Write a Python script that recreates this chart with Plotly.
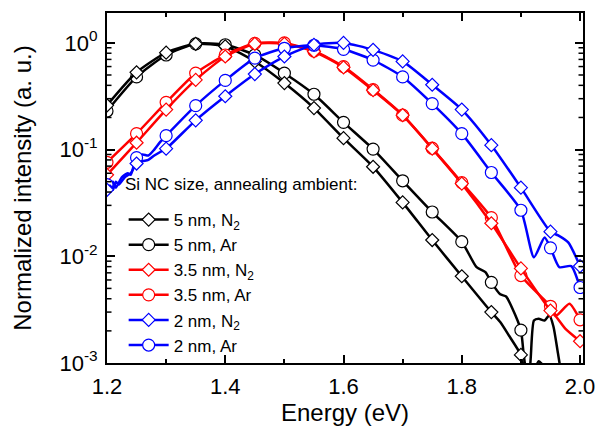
import plotly.graph_objects as go
import math

# ---------------- data ----------------
energy = [1.20, 1.25, 1.30, 1.35, 1.40, 1.45, 1.50, 1.55, 1.60, 1.65,
          1.70, 1.75, 1.80, 1.85, 1.90, 1.95, 2.00]

# marker values
n5_N2 = [0.26, 0.53, 0.81, 0.98, 0.93, 0.67, 0.42, 0.245, 0.128, 0.069,
         0.032, 0.0142, 0.0065, 0.0030, 0.00119]
n5_Ar = [0.23, 0.48, 0.77, 0.98, 0.96, 0.77, 0.52, 0.33, 0.18, 0.101,
         0.051, 0.026, 0.0137, 0.0057, 0.00203]
n35_N2 = [0.058, 0.116, 0.237, 0.45, 0.745, 0.98, 0.98, 0.83, 0.59, 0.36,
          0.21, 0.102, 0.048, 0.0204, 0.0077, 0.0031, 0.0016]
n35_Ar = [0.076, 0.141, 0.277, 0.52, 0.77, 0.99, 1.0, 0.84, 0.60, 0.365,
          0.21, 0.103, 0.049, 0.023, 0.0066, 0.0034, 0.00254]
n2_N2 = [0.042, 0.074, 0.102, 0.188, 0.316, 0.51, 0.745, 0.96, 1.0, 0.86,
         0.67, 0.405, 0.237, 0.11, 0.044, 0.017, 0.0081]
n2_Ar = [0.047, 0.084, 0.135, 0.258, 0.445, 0.72, 0.89, 0.95, 0.87, 0.69,
         0.48, 0.27, 0.141, 0.061, 0.027, 0.012, 0.0051]

# additional curve points between markers (spectra are measured densely)
n5_N2_xe = [1.865, 1.88, 1.905, 1.915, 1.93, 1.937, 1.945, 1.96, 2.0]
n5_N2_ye = [0.00242, 0.0018, 0.0009, 0.0007, 0.00104, 0.00095, 0.0006, 0.0003, 0.0003]
n5_Ar_xe = [1.825, 1.84, 1.865, 1.875, 1.885, 1.905, 1.91, 1.915, 1.922, 1.93,
            1.94, 1.948, 1.955, 1.962, 1.97, 1.98, 2.0]
n5_Ar_ye = [0.0079, 0.0071, 0.0044, 0.0042, 0.0033, 0.00116, 0.0008, 0.0009, 0.0025, 0.0026,
            0.0025, 0.0028, 0.0022, 0.0013, 0.0007, 0.0004, 0.0003]
n35_N2_xe = [1.96, 1.975]
n35_N2_ye = [0.0027, 0.0021]
n35_Ar_xe = [1.96, 1.982]
n35_Ar_ye = [0.0028, 0.0036]
n2_N2_xe = [1.205, 1.21, 1.215, 1.22, 1.23, 1.24, 1.26, 1.27, 1.28, 1.29, 1.963, 1.98]
n2_N2_ye = [0.046, 0.042, 0.050, 0.047, 0.055, 0.060, 0.078, 0.080, 0.088, 0.095, 0.0157, 0.0135]
n2_Ar_xe = [1.21, 1.215, 1.225, 1.235, 1.24, 1.245, 1.26, 1.27, 1.28, 1.29,
            1.922, 1.94, 1.965, 1.985]
n2_Ar_ye = [0.050, 0.044, 0.055, 0.060, 0.058, 0.070, 0.090, 0.088, 0.100, 0.118,
            0.0098, 0.015, 0.0079, 0.0081]

names = ["5 nm, N<sub>2</sub>", "5 nm, Ar", "3.5 nm, N<sub>2</sub>",
         "3.5 nm, Ar", "2 nm, N<sub>2</sub>", "2 nm, Ar"]
legend_title = "Si NC size, annealing ambient:"
y_tickvals = [0.001, 0.01, 0.1, 1]
y_ticktext = ["10<sup>-3</sup>", "10<sup>-2</sup>", "10<sup>-1</sup>", "10<sup>0</sup>"]

series = [
    (names[0], n5_N2, n5_N2_xe, n5_N2_ye, "black", "diamond"),
    (names[1], n5_Ar, n5_Ar_xe, n5_Ar_ye, "black", "circle"),
    (names[2], n35_N2, n35_N2_xe, n35_N2_ye, "red", "diamond"),
    (names[3], n35_Ar, n35_Ar_xe, n35_Ar_ye, "red", "circle"),
    (names[4], n2_N2, n2_N2_xe, n2_N2_ye, "blue", "diamond"),
    (names[5], n2_Ar, n2_Ar_xe, n2_Ar_ye, "blue", "circle"),
]

YMIN, YMAX = -3.0, 0.28

fig = go.Figure()
LW = 2.5
def msize(sym):
    return 10 if sym == "diamond" else 12

# legend entries (in reference order)
for name, vals, xe, ye, col, sym in series:
    fig.add_trace(go.Scatter(
        x=[None], y=[None], mode="lines+markers", name=name,
        line=dict(color=col, width=LW),
        marker=dict(symbol=sym, size=msize(sym), color="white",
                    line=dict(color=col, width=1.2)),
        showlegend=True))

# draw order: Ar first, N2 on top, per size
draw_order = [1, 0, 3, 2, 5, 4]
for i in draw_order:
    name, vals, xe, ye, col, sym = series[i]
    xm = energy[:len(vals)]
    pts = sorted(list(zip(xm, vals)) + list(zip(xe, ye)))
    fig.add_trace(go.Scatter(
        x=[p[0] for p in pts], y=[p[1] for p in pts], mode="lines",
        line=dict(color=col, width=LW, shape="spline", smoothing=0.6),
        showlegend=False, hoverinfo="skip"))
    fig.add_trace(go.Scatter(
        x=xm, y=vals, mode="markers",
        marker=dict(symbol=sym, size=msize(sym), color="white",
                    line=dict(color=col, width=1.2)),
        showlegend=False))

# minor ticks of the log axis (left and right, pointing inwards)
plot_w = 597 - 107 - 14
minor_len = 4.5 / plot_w
shapes = []
for n in range(-3, 1):
    for k in range(2, 10):
        v = math.log10(k * 10.0 ** n)
        if v > YMAX:
            continue
        yp = (v - YMIN) / (YMAX - YMIN)
        for x0, x1 in ((0, minor_len), (1 - minor_len, 1)):
            shapes.append(dict(type="line", xref="paper", yref="paper",
                               x0=x0, x1=x1, y0=yp, y1=yp,
                               line=dict(color="black", width=1.5)))

fig.update_layout(
    width=597, height=435,
    margin=dict(l=107, r=14, t=13, b=72),
    paper_bgcolor="white", plot_bgcolor="white",
    font=dict(family="Liberation Sans, Arial, sans-serif", color="black", size=17),
    shapes=shapes,
    annotations=[dict(text=legend_title, xref="paper", yref="paper",
                      x=0.034, y=0.509, xanchor="left", yanchor="middle",
                      showarrow=False, font=dict(size=17))],
    legend=dict(
        x=0.035, y=0.46, xanchor="left", yanchor="top",
        bgcolor="rgba(0,0,0,0)", borderwidth=0,
        font=dict(size=17), itemwidth=40, tracegroupgap=0,
    ),
    xaxis=dict(
        range=[1.2, 2.005], tick0=1.2, dtick=0.2, tickformat=".1f",
        showline=True, linewidth=2, linecolor="black", mirror="ticks",
        ticks="inside", ticklen=8, tickwidth=2, tickcolor="black",
        minor=dict(dtick=0.1, ticks="inside", ticklen=4, tickwidth=1.5, tickcolor="black"),
        showgrid=False, zeroline=False, automargin=False,
        tickfont=dict(size=22), ticklabelstandoff=3,
        title=dict(text="Energy (eV)", font=dict(size=24), standoff=4),
    ),
    yaxis=dict(
        type="log", range=[YMIN, YMAX],
        tickmode="array", tickvals=y_tickvals, ticktext=y_ticktext,
        showline=True, linewidth=2, linecolor="black", mirror="ticks",
        ticks="inside", ticklen=8, tickwidth=2, tickcolor="black",
        showgrid=False, zeroline=False, automargin=False,
        tickfont=dict(size=22), ticklabelstandoff=3,
        title=dict(text="Normalized intensity (a. u.)", font=dict(size=24), standoff=21),
    ),
)

fig.write_html("out.html")
